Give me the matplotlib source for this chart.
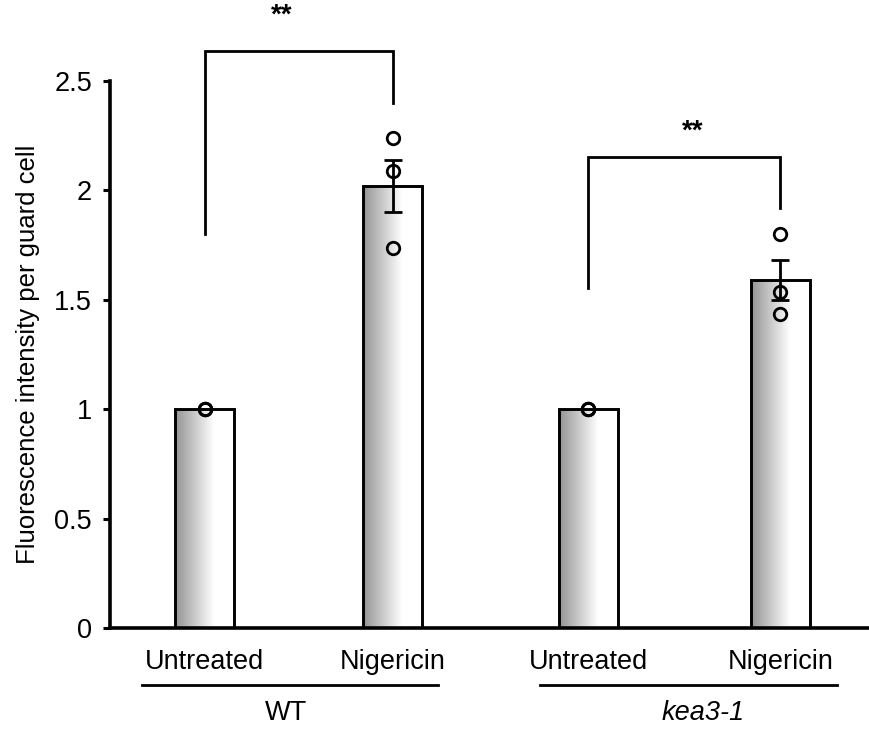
import numpy as np
import matplotlib.pyplot as plt

plt.rcParams['font.family'] = ['Liberation Sans', 'DejaVu Sans']

# bar order: WT untreated, WT nigericin, kea3-1 untreated, kea3-1 nigericin
treatments = ['Untreated', 'Nigericin', 'Untreated', 'Nigericin']
genotypes = ['WT', 'kea3-1']
means = [1.0, 2.02, 1.0, 1.59]
sem = [0.0, 0.12, 0.0, 0.09]
points = [[1.0, 1.0, 1.0],
          [2.24, 2.09, 1.735],
          [1.0, 1.0, 1.0],
          [1.80, 1.537, 1.434]]
xpos = [0, 1, 2.04, 3.06]
width = 0.314

fig = plt.figure(figsize=(8.69, 7.33), dpi=100)
ax = fig.add_axes([110/869, 105/733, (869-110)/869, (628-81)/733])

# grey-to-white gradient fill for each bar
grad = np.concatenate([np.linspace(0.58, 1.0, 40), np.ones(20)])[None, :]
for x, m in zip(xpos, means):
    ax.imshow(grad, cmap='gray', vmin=0, vmax=1, aspect='auto',
              extent=[x - width/2, x + width/2, 0, m], zorder=1)
ax.bar(xpos, means, width=width, facecolor='none', edgecolor='black',
       linewidth=2.1, zorder=2)

for x, m, e in zip(xpos, means, sem):
    if e > 0:
        ax.errorbar(x, m, yerr=e, color='black', elinewidth=2.0,
                    capsize=6.5, capthick=2.0, zorder=3)

for x, pts in zip(xpos, points):
    ax.plot([x]*len(pts), pts, 'o', markerfacecolor='none',
            markeredgecolor='black', markersize=9, markeredgewidth=2.0,
            zorder=4, clip_on=False)

ax.set_xlim(-0.505, 3.532)
ax.set_ylim(0, 2.5)
ax.set_yticks([0, 0.5, 1, 1.5, 2, 2.5])
ax.set_yticklabels(['0', '0.5', '1', '1.5', '2', '2.5'])
ax.set_xticks([])
for s in ['top', 'right']:
    ax.spines[s].set_visible(False)
for s in ['left', 'bottom']:
    ax.spines[s].set_linewidth(2.6)
ax.tick_params(axis='y', direction='out', length=5, width=2.2, labelsize=19.5, pad=8)
ax.set_ylabel('Fluorescence intensity per guard cell', fontsize=18.5, labelpad=10)

# significance brackets
def bracket(x1, x2, y1, y2, top, ystar, xstar):
    ax.plot([x1, x1, x2, x2], [y1, top, top, y2], color='black', lw=2.0,
            clip_on=False, solid_joinstyle='miter')
    ax.text(xstar, ystar, '**', ha='center', va='center', fontsize=20,
            fontweight='bold')

bracket(xpos[0], xpos[1], 1.80, 2.40, 2.637, 2.80, 0.41)
bracket(xpos[2], xpos[3], 1.554, 1.92, 2.153, 2.27, 2.596)

# category and genotype labels below the axis
for x, t in zip(xpos, treatments):
    ax.text(x, -0.155, t, ha='center', va='center', fontsize=19.5)
ax.plot([-0.335, 1.239], [-0.26, -0.26], color='black', lw=2.0, clip_on=False)
ax.plot([1.782, 3.362], [-0.26, -0.26], color='black', lw=2.0, clip_on=False)
ax.text(0.43, -0.39, genotypes[0], ha='center', va='center', fontsize=19.5)
ax.text(2.65, -0.39, genotypes[1], ha='center', va='center', fontsize=19.5,
        style='italic')

fig.savefig('out.png', dpi=100)
